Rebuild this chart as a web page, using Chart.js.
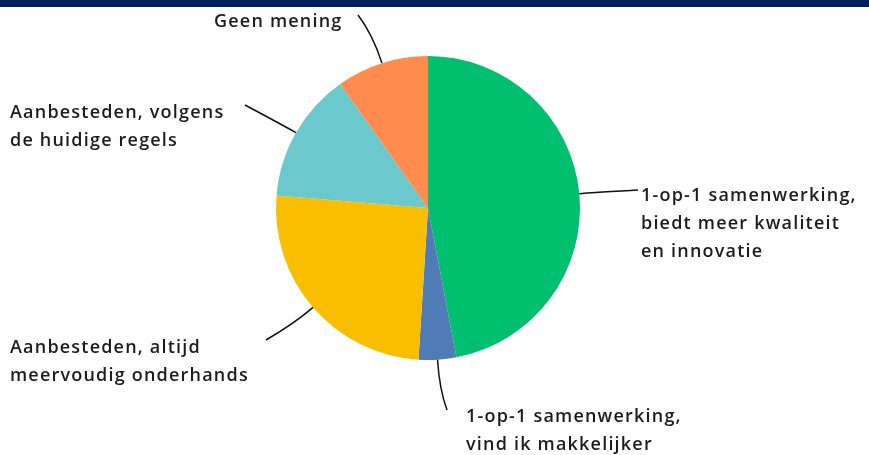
<!DOCTYPE html>
<html>
<head>
<meta charset="utf-8">
<script src="https://cdn.jsdelivr.net/npm/chart.js@4"></script>
<style>
  html, body { margin: 0; padding: 0; background: #fff; }
  #topbar { position: absolute; left: 0; top: 0; width: 869px; height: 7px; background: #00205f; }
  #wrap { position: absolute; left: 0; top: 0; width: 869px; height: 455px; }
</style>
</head>
<body>
<div id="topbar"></div>
<div id="wrap"><canvas id="pie"></canvas></div>
<script>
// answers, clockwise from 12 o'clock
var labels = [
    ['1-op-1 samenwerking,', 'biedt meer kwaliteit', 'en innovatie'],
    ['1-op-1 samenwerking,', 'vind ik makkelijker'],
    ['Aanbesteden, altijd', 'meervoudig onderhands'],
    ['Aanbesteden, volgens', 'de huidige regels'],
    ['Geen mening']
];
var values = [47, 4, 25.3, 13.9, 9.8];
var colors = ['#00BF6F', '#507CB6', '#F9BE00', '#6BC8CD', '#FF8B4F'];

// where each label's leader line ends and where its text starts
var callouts = [
    { end: [638, 190], text: [641, 196], bend: 10 },
    { end: [447, 410], text: [466, 417], bend: 30 },
    { end: [266, 340], text: [10, 348], bend: 25 },
    { end: [245, 105], text: [10, 113], bend: 15 },
    { end: [358, 15], text: [214, 22], bend: 30 }
];

var calloutPlugin = {
    id: 'callouts',
    afterDraw: function (chart) {
        var ctx = chart.ctx;
        var meta = chart.getDatasetMeta(0);
        ctx.save();
        meta.data.forEach(function (arc, i) {
            var c = callouts[i];
            var mid = (arc.startAngle + arc.endAngle) / 2;
            var dx = Math.cos(mid), dy = Math.sin(mid);
            var sx = arc.x + dx * arc.outerRadius;
            var sy = arc.y + dy * arc.outerRadius;
            ctx.beginPath();
            ctx.strokeStyle = '#111';
            ctx.lineWidth = 1.5;
            ctx.moveTo(sx, sy);
            ctx.quadraticCurveTo(sx + dx * c.bend, sy + dy * c.bend, c.end[0], c.end[1]);
            ctx.stroke();

            ctx.fillStyle = '#1c1c1c';
            ctx.font = '600 18px "Open Sans"';
            ctx.letterSpacing = '1.2px';
            ctx.textBaseline = 'middle';
            ctx.textAlign = 'left';
            labels[i].forEach(function (line, k) {
                ctx.fillText(line, c.text[0], c.text[1] + k * 28);
            });
        });
        ctx.restore();
    }
};

new Chart(document.getElementById('pie'), {
    type: 'pie',
    data: {
        labels: labels.map(function (l) { return l.join(' '); }),
        datasets: [{
            data: values,
            backgroundColor: colors,
            borderWidth: 0
        }]
    },
    options: {
        responsive: true,
        maintainAspectRatio: false,
        animation: false,
        layout: { padding: { top: 56, bottom: 95, left: 0, right: 13 } },
        plugins: {
            legend: { display: false },
            tooltip: { enabled: false }
        }
    },
    plugins: [calloutPlugin]
});
</script>
</body>
</html>
